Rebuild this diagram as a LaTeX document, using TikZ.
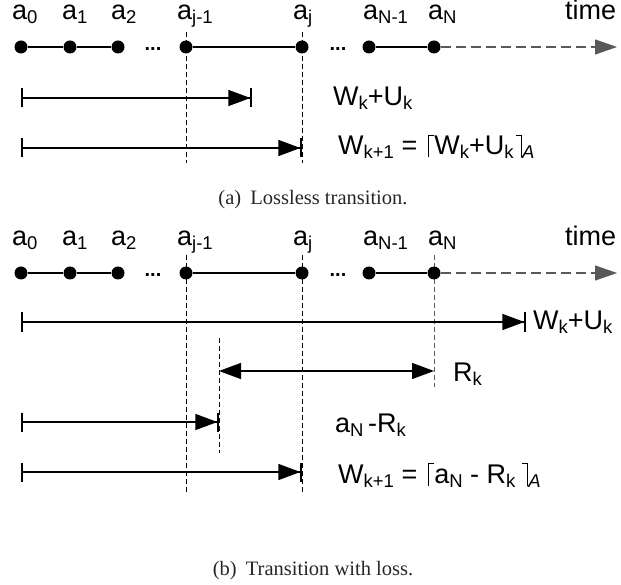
\documentclass[tikz,border=0pt]{standalone}
\usepackage{fontspec}
\usetikzlibrary{arrows.meta}
\newfontfamily\labfont{Liberation Sans}
\newfontfamily\capfont{Liberation Serif}
\newcommand\lab{\labfont\fontsize{27}{30}\selectfont}
\newcommand\lsub[1]{\raisebox{-4pt}{\fontsize{18.5}{20}\selectfont #1}}
\newcommand\lceilx{\hspace{3pt}\rule[-2.5pt]{1pt}{22.5pt}\rule[19pt]{5.5pt}{1pt}}
\newcommand\rceilx{\hspace{2pt}\rule[19pt]{5.5pt}{1pt}\rule[-2.5pt]{1pt}{22.5pt}}
\tikzset{
  dot/.style={circle, fill=black, inner sep=0pt, minimum size=13pt},
  seg/.style={line width=1.8pt},
  guide/.style={line width=0.9pt, dash pattern=on 5pt off 3pt},
  gguide/.style={line width=0.9pt, dash pattern=on 5pt off 3pt, black!65},
  future/.style={line width=1.1pt, black!65, dash pattern=on 10pt off 5pt, -{Triangle[length=22pt,width=15pt]}, shorten <=6.5pt},
  span/.style={line width=1.2pt},
  spanb/.style={span, {Bar[width=19pt,line width=1.6pt]}-{Triangle[length=22pt,width=16pt]Bar[width=19pt,line width=1.6pt]}},
  spanr/.style={span, {Triangle[length=22pt,width=16pt]}-{Triangle[length=22pt,width=16pt]}},
  lbl/.style={font=\lab, inner sep=0pt, anchor=base west, text height=17pt, text depth=6pt},
  ell/.style={font=\labfont\bfseries\fontsize{20}{20}\selectfont, inner sep=0pt, anchor=base},
  captext/.style={font=\capfont\fontsize{20.5}{22}\selectfont, inner sep=0pt, anchor=base, text=black!85}
}
\begin{document}
\begin{tikzpicture}[x=1pt,y=-1pt]
\useasboundingbox (0,0) rectangle (621,585);
% ================= (a) =================
\draw[guide] (186,32) -- (186,163);
\draw[guide] (302,32) -- (302,163);
\node[dot] (a0) at (21,47) {};
\node[dot] (a1) at (70,47) {};
\node[dot] (a2) at (118,47) {};
\node[dot] (aj1) at (186,47) {};
\node[dot] (aj) at (302,47) {};
\node[dot] (aN1) at (369,47) {};
\node[dot] (aN) at (434,47) {};
\coordinate (tend) at (617,47);
\draw[seg] (a0) -- (a1) -- (a2);
\draw[seg] (aj1) -- (aj);
\draw[seg] (aN1) -- (aN);
\draw[future] (aN.center) -- (tend);
\node[ell] (e1) at (153,51) {...};
\node[ell] (e2) at (338,51) {...};
\node[lbl] (la0) at (12,20) {a\lsub{0}};
\node[lbl] (la1) at (62,20) {a\lsub{1}};
\node[lbl] (la2) at (111,20) {a\lsub{2}};
\node[lbl] (laj1) at (177,20) {a\lsub{j-1}};
\node[lbl] (laj) at (293,20) {a\lsub{j}};
\node[lbl] (laN1) at (363,20) {a\lsub{N-1}};
\node[lbl] (laN) at (428,20) {a\lsub{N}};
\node[lbl] (ltime) at (565,20) {time};
\coordinate (s1) at (21,98);
\coordinate (e1x) at (252,98);
\coordinate (s2) at (21,148);
\coordinate (e2x) at (302,148);
\draw[spanb] (s1) -- (e1x);
\draw[spanb] (s2) -- (e2x);
\node[lbl] (wu) at (333,106) {W\lsub{k}+U\lsub{k}};
\node[lbl] (wk1) at (338,155) {W\lsub{k+1} = \lceilx W\lsub{k}+U\lsub{k}\rceilx\lsub{\itshape A}};
\node[captext] (capa) at (313,205) {(a)\hspace{0.45em}Lossless transition.};
% ================= (b) =================
\draw[guide] (186,255) -- (186,495);
\draw[guide] (302,255) -- (302,495);
\draw[gguide] (434,255) -- (434,387);
\draw[guide] (219,338) -- (219,453);
\node[dot] (b0) at (21,273) {};
\node[dot] (b1) at (70,273) {};
\node[dot] (b2) at (118,273) {};
\node[dot] (bj1) at (186,273) {};
\node[dot] (bj) at (302,273) {};
\node[dot] (bN1) at (369,273) {};
\node[dot] (bN) at (434,273) {};
\coordinate (btend) at (617,273);
\draw[seg] (b0) -- (b1) -- (b2);
\draw[seg] (bj1) -- (bj);
\draw[seg] (bN1) -- (bN);
\draw[future] (bN.center) -- (btend);
\node[ell] (f1) at (153,277) {...};
\node[ell] (f2) at (338,277) {...};
\node[lbl] (lb0) at (12,246) {a\lsub{0}};
\node[lbl] (lb1) at (62,246) {a\lsub{1}};
\node[lbl] (lb2) at (111,246) {a\lsub{2}};
\node[lbl] (lbj1) at (177,246) {a\lsub{j-1}};
\node[lbl] (lbj) at (293,246) {a\lsub{j}};
\node[lbl] (lbN1) at (363,246) {a\lsub{N-1}};
\node[lbl] (lbN) at (428,246) {a\lsub{N}};
\node[lbl] (lbtime) at (565,246) {time};
\coordinate (t1) at (21,322);
\coordinate (u1) at (526,322);
\coordinate (t2) at (219,371);
\coordinate (u2) at (434,371);
\coordinate (t3) at (21,422);
\coordinate (u3) at (219,422);
\coordinate (t4) at (21,472);
\coordinate (u4) at (302,472);
\draw[spanb] (t1) -- (u1);
\draw[spanr] (t2) -- (u2);
\draw[spanb] (t3) -- (u3);
\draw[spanb] (t4) -- (u4);
\node[lbl] (bwu) at (533,330) {W\lsub{k}+U\lsub{k}};
\node[lbl] (brk) at (453,381) {R\lsub{k}};
\node[lbl] (banr) at (335,432) {a\lsub{N}\,-R\lsub{k}};
\node[lbl] (bwk1) at (338,483) {W\lsub{k+1} = \lceilx a\lsub{N} - R\lsub{k}\,\rceilx\lsub{\itshape A}};
\node[captext] (capb) at (313,575) {(b)\hspace{0.45em}Transition with loss.};
\end{tikzpicture}
\end{document}
